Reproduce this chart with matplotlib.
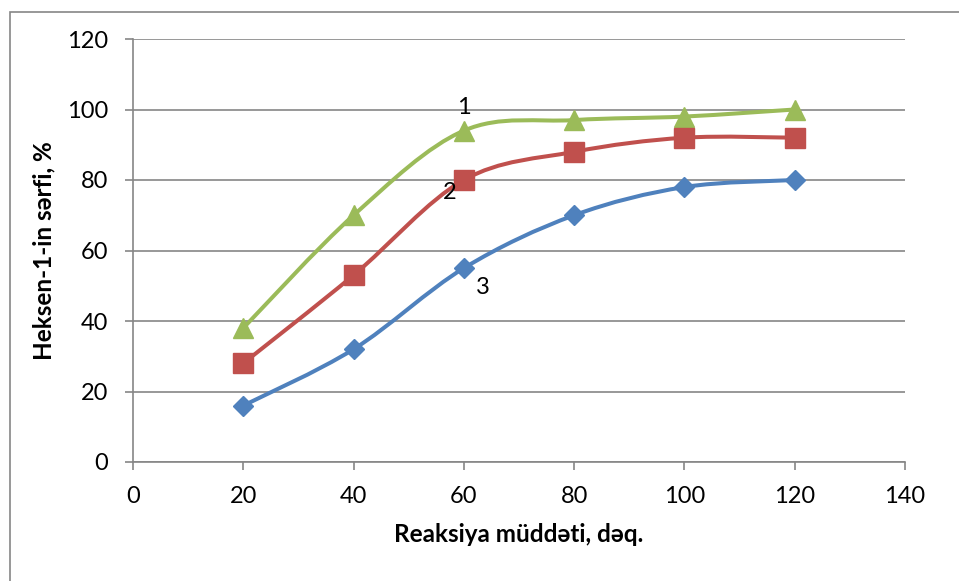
import numpy as np
import matplotlib
matplotlib.use("Agg")
import matplotlib.pyplot as plt
from matplotlib.path import Path
from matplotlib.patches import PathPatch, Rectangle

plt.rcParams['font.family'] = ['Lato', 'DejaVu Sans']

# data
time_min = [20, 40, 60, 80, 100, 120]
curve1 = [38, 70, 94, 97, 98, 100]   # green triangles
curve2 = [28, 53, 80, 88, 92, 92]    # red squares
curve3 = [16, 32, 55, 70, 78, 80]    # blue diamonds

series = [
    (curve1, "#9BBB59", "^", 14),
    (curve2, "#C0504D", "s", 14),
    (curve3, "#4F81BD", "D", 10.5),
]
labels = [("1", 60, 100.5), ("2", 57.5, 76.5), ("3", 63.5, 49.5)]

grid_col = "#868686"


def smooth_path(x, y, k=1/6.):
    # Excel-like smoothed line: cubic Bezier segments (Catmull-Rom control points)
    pts = np.column_stack([x, y]).astype(float)
    n = len(pts)
    verts = [pts[0]]
    codes = [Path.MOVETO]
    for i in range(n - 1):
        p0 = pts[i - 1] if i > 0 else pts[i]
        p1, p2 = pts[i], pts[i + 1]
        p3 = pts[i + 2] if i + 2 < n else pts[i + 1]
        c1 = p1 + (p2 - p0) * k
        c2 = p2 - (p3 - p1) * k
        verts += [c1, c2, p2]
        codes += [Path.CURVE4] * 3
    return Path(verts, codes)


fig = plt.figure(figsize=(9.59, 5.81), dpi=100)
ax = fig.add_axes([133/959, 1 - 462/581, (905-133)/959, (462-39)/581])

for vals, col, mk, ms in series:
    ax.add_patch(PathPatch(smooth_path(time_min, vals), facecolor="none",
                           edgecolor=col, lw=2.9, capstyle="round", zorder=3))
    ax.plot(time_min, vals, ls="none", marker=mk, ms=ms, color=col, mec=col, zorder=4)

for txt, lx, ly in labels:
    ax.text(lx, ly, txt, fontsize=17, ha="center", va="center", zorder=5)

ax.set_xlim(0, 140)
ax.set_ylim(0, 120)
ax.set_xticks(range(0, 141, 20))
ax.set_yticks(range(0, 121, 20))
ax.grid(axis="y", color=grid_col, lw=1.2)
ax.set_axisbelow(True)
for s in ["top", "right"]:
    ax.spines[s].set_visible(False)
for s in ["left", "bottom"]:
    ax.spines[s].set_color(grid_col)
    ax.spines[s].set_linewidth(1.2)
ax.tick_params(axis="both", colors=grid_col, length=6, width=1.2, labelsize=17,
               labelcolor="black")
ax.tick_params(axis="y", pad=12)
ax.tick_params(axis="x", pad=11)

ax.set_xlabel("Reaksiya müddəti, dəq.", fontsize=17.5, fontweight="bold", labelpad=12)
ax.set_ylabel("Heksen-1-in sərfi, %", fontsize=17.5, fontweight="bold", labelpad=8)

# outer chart border (cut off at right and bottom, as in the reference)
fig.patches.append(Rectangle((10/959, -0.1), 1.2, 1.1 - 12/581,
                             transform=fig.transFigure, fill=False,
                             edgecolor=grid_col, lw=1.2))

fig.savefig("out.png", dpi=100)
plt.close(fig)
